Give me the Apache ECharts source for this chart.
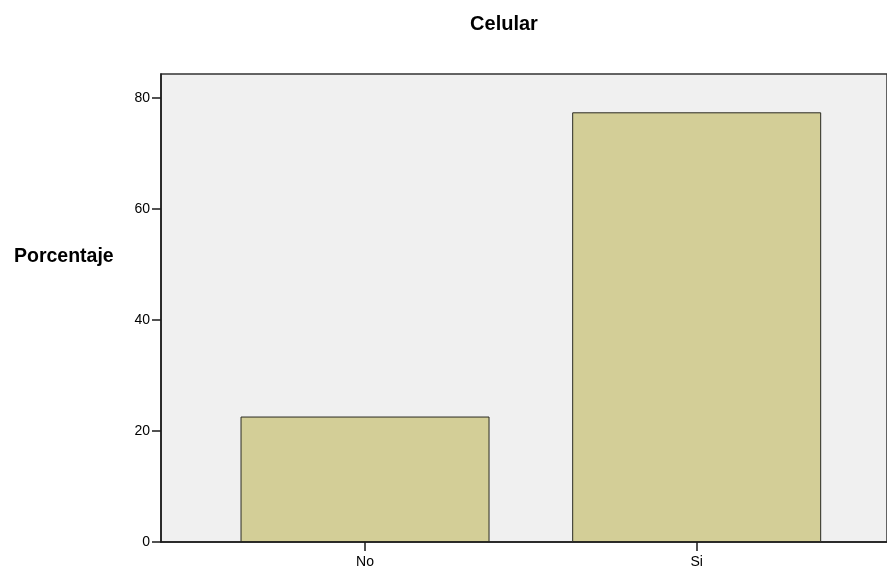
<!DOCTYPE html>
<html>
<head>
<meta charset="utf-8">
<script src="https://cdn.jsdelivr.net/npm/echarts@6/dist/echarts.min.js"></script>
<style>html,body{margin:0;padding:0;background:#fff;}#c{width:887px;height:569px;}</style>
</head>
<body>
<div id="c"></div>
<script>
const categories = ["No", "Si"];
const percentValues = [22.6, 77.4];
const yTicks = [0, 20, 40, 60, 80];
const titleText = "Celular";
const yAxisTitle = "Porcentaje";

const chart = echarts.init(document.getElementById('c'), null, {renderer: 'canvas'});
const font = "'Liberation Sans', Arial, sans-serif";
chart.setOption({
  animation: false,
  backgroundColor: '#ffffff',
  title: {
    text: titleText, left: 499, top: 9, textAlign: 'center',
    textStyle: {fontFamily: font, fontSize: 20, fontWeight: 'bold', color: '#000'}
  },
  graphic: [{
    type: 'text', left: 14, top: 247,
    style: {text: yAxisTitle, font: "bold 19.5px 'Liberation Sans', Arial, sans-serif", fill: '#000'}
  }],
  grid: [
    {left: 161, top: 74, right: -10, bottom: 27, show: true, backgroundColor: '#f0f0f0', borderColor: '#333', borderWidth: 1.5},
    {left: 199.2, top: 74, right: 24.5, bottom: 27}
  ],
  xAxis: [
    {type: 'category', gridIndex: 0, data: [''], axisLine: {show: true, lineStyle: {color: '#1a1a1a', width: 1.5}},
     axisTick: {show: false}, axisLabel: {show: false}, splitLine: {show: false}},
    {type: 'category', gridIndex: 1, data: categories, axisLine: {show: false},
     axisTick: {show: true, alignWithLabel: true, length: 9, lineStyle: {color: '#1a1a1a', width: 1.5}},
     axisLabel: {fontFamily: font, fontSize: 14, color: '#000', margin: 13}}
  ],
  yAxis: [
    {type: 'value', gridIndex: 0, min: 0, max: 84.3,
     axisLine: {show: true, lineStyle: {color: '#1a1a1a', width: 1.5}},
     axisTick: {show: true, length: 9, customValues: yTicks, lineStyle: {color: '#1a1a1a', width: 1.5}},
     axisLabel: {customValues: yTicks, fontFamily: font, fontSize: 14, color: '#000', margin: 11},
     splitLine: {show: false}},
    {type: 'value', gridIndex: 1, min: 0, max: 84.3, show: false, splitLine: {show: false}}
  ],
  series: [{
    type: 'bar', xAxisIndex: 1, yAxisIndex: 1, data: percentValues, barWidth: 249,
    itemStyle: {color: '#d3ce97', borderColor: '#2a2a22', borderWidth: 1}
  }]
});
</script>
</body>
</html>
